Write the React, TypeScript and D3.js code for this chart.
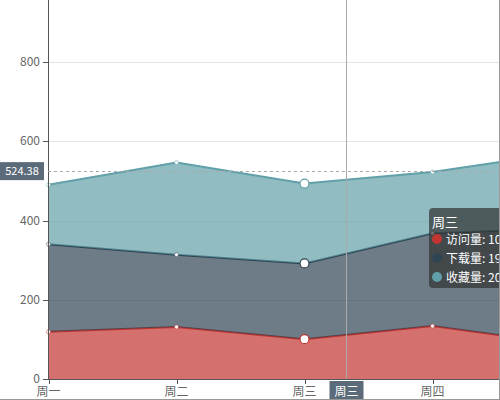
import React from "react";
import * as d3 from "d3";

const categories = ["周一", "周二", "周三", "周四", "周五", "周六", "周日"];
const seriesNames = ["访问量", "下载量", "收藏量"];
const visits = [120, 132, 101, 134, 90, 230, 210];
const downloads = [220, 182, 191, 234, 290, 330, 310];
const favorites = [150, 232, 201, 154, 190, 330, 410];
const seriesColors = ["#c23531", "#2f4554", "#61a0a8"];
const yTicks = [0, 200, 400, 600, 800, 1000];
const hoverIndex = 2;
const pointerValue = 524.38;
const pointerX = 346.5;

const W = 500;
const H = 400;

export default function App() {
  const x = d3.scalePoint<string>().domain(categories).range([48.5, 48.5 + 128 * 6]);
  const y = d3.scaleLinear().domain([0, 1000]).range([379.3, -17.7]);

  const rows = categories.map((c, i) => ({
    cat: c,
    s0: visits[i],
    s1: downloads[i],
    s2: favorites[i],
  }));
  const stack = d3.stack<any>().keys(["s0", "s1", "s2"]);
  const stacked = stack(rows);

  const area = d3
    .area<any>()
    .x((d) => x(d.data.cat) as number)
    .y0((d) => y(d[0]))
    .y1((d) => y(d[1]));
  const line = d3
    .line<any>()
    .x((d) => x(d.data.cat) as number)
    .y((d) => y(d[1]));

  const font = "'Noto Sans CJK SC', 'Noto Sans', sans-serif";
  const values = [visits, downloads, favorites];
  const tipX = 429;
  const tipY = 208;
  const visibleTicks = yTicks.filter((t) => y(t) > 8);

  return (
    <svg
      width={W}
      height={H}
      style={{ position: "absolute", left: 0, top: 0, background: "#fff" }}
      fontFamily={font}
    >
      <defs>
        <clipPath id="clip">
          <rect x={0} y={0} width={W} height={H} />
        </clipPath>
      </defs>
      <g clipPath="url(#clip)">
        {/* grid */}
        {yTicks.map((t) => (
          <line
            key={"g" + t}
            x1={48}
            x2={W}
            y1={Math.round(y(t)) + 0.5}
            y2={Math.round(y(t)) + 0.5}
            stroke="#e3e3e3"
          />
        ))}
        {/* areas */}
        {stacked.map((s, i) => (
          <g key={"s" + i}>
            <path d={area(s) as string} fill={seriesColors[i]} fillOpacity={0.7} />
            <path d={line(s) as string} fill="none" stroke={seriesColors[i]} strokeWidth={2} />
          </g>
        ))}
        {/* symbols */}
        {stacked.map((s, i) =>
          s.map((d: any, j: number) =>
            j === hoverIndex ? (
              <circle
                key={"p" + i + j}
                cx={x(d.data.cat) as number}
                cy={y(d[1])}
                r={4.5}
                fill="#fff"
                stroke={seriesColors[i]}
                strokeWidth={1.2}
              />
            ) : (
              <circle
                key={"p" + i + j}
                cx={x(d.data.cat) as number}
                cy={y(d[1])}
                r={2}
                fill="#fff"
                stroke={seriesColors[i]}
                strokeWidth={0.5}
              />
            )
          )
        )}
        {/* y axis */}
        <line x1={48.5} x2={48.5} y1={0} y2={379.5} stroke="#555" />
        {visibleTicks.map((t) => (
          <g key={"yt" + t}>
            <line
              x1={43}
              x2={48}
              y1={Math.round(y(t)) + 0.5}
              y2={Math.round(y(t)) + 0.5}
              stroke="#555"
            />
            <text x={40} y={y(t) + 4} fontSize={12} fill="#666" textAnchor="end">
              {t}
            </text>
          </g>
        ))}
        {/* x axis */}
        <line x1={48} x2={W} y1={379.5} y2={379.5} stroke="#555" />
        {categories.map((c) => (
          <g key={"xt" + c}>
            <line
              x1={Math.round(x(c) as number) + 0.5}
              x2={Math.round(x(c) as number) + 0.5}
              y1={379.5}
              y2={384}
              stroke="#555"
            />
            <text x={x(c) as number} y={396} fontSize={12} fill="#666" textAnchor="middle">
              {c}
            </text>
          </g>
        ))}
        {/* axis pointer */}
        <line x1={pointerX} x2={pointerX} y1={0} y2={379} stroke="#aaa" />
        <line
          x1={48}
          x2={W}
          y1={Math.round(y(pointerValue)) + 0.5}
          y2={Math.round(y(pointerValue)) + 0.5}
          stroke="#aaa"
          strokeDasharray="3,3"
        />
        <rect x={0} y={y(pointerValue) - 9} width={44} height={18} fill="#5c6b7a" />
        <text x={22} y={y(pointerValue) + 4} fontSize={11} fill="#fff" textAnchor="middle">
          {pointerValue.toFixed(2)}
        </text>
        <rect x={pointerX - 17} y={381} width={34} height={20} fill="#5c6b7a" />
        <text x={pointerX} y={396} fontSize={12} fill="#fff" textAnchor="middle">
          {categories[hoverIndex]}
        </text>
        {/* tooltip */}
        <rect x={tipX} y={tipY} width={110} height={80} rx={4} fill="rgba(50,50,50,0.7)" />
        <text x={tipX + 3} y={tipY + 19} fontSize={13} fill="#fff">
          {categories[hoverIndex]}
        </text>
        {seriesNames.map((n, i) => (
          <g key={"tt" + i}>
            <circle cx={tipX + 8} cy={tipY + 31 + i * 19} r={5} fill={seriesColors[i]} />
            <text x={tipX + 17} y={tipY + 36 + i * 19} fontSize={12} fill="#fff">
              {n + ": " + values[i][hoverIndex]}
            </text>
          </g>
        ))}
        {/* frame */}
        <line x1={499.5} x2={499.5} y1={0} y2={H} stroke="#999" />
        <line x1={0} x2={W} y1={399.5} y2={399.5} stroke="#999" />
      </g>
    </svg>
  );
}
